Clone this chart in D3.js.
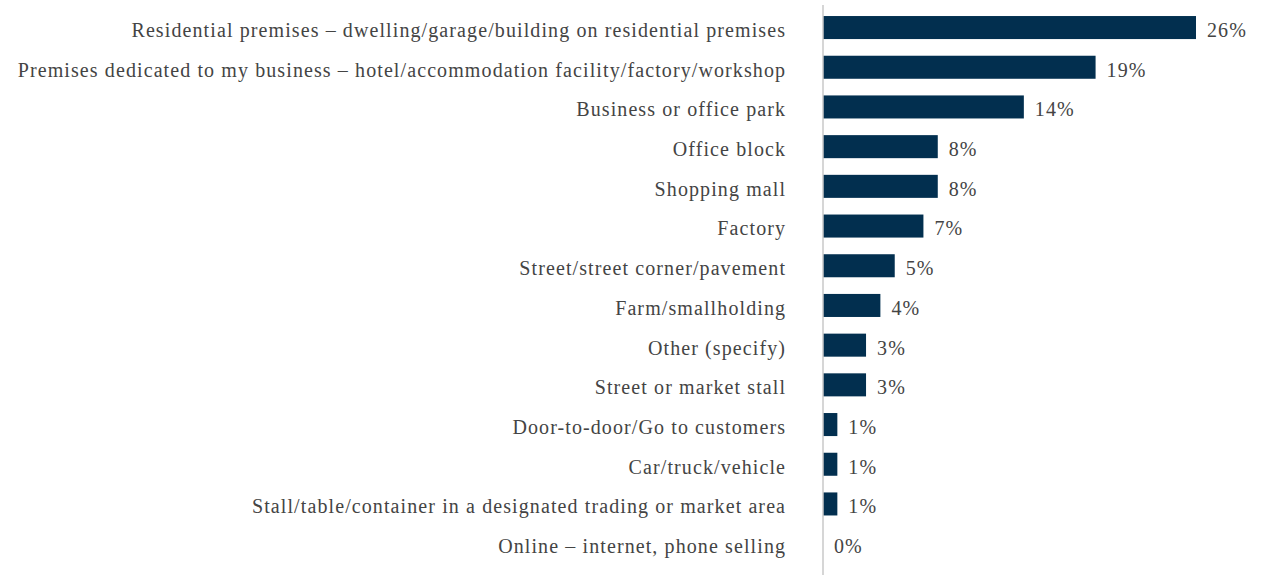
<!DOCTYPE html>
<html>
<head>
<meta charset="utf-8">
<script src="https://cdn.jsdelivr.net/npm/d3@7"></script>
<style>
  html, body { margin: 0; padding: 0; background: #fff; }
  svg { display: block; }
  text { font-family: "Liberation Serif", "DejaVu Serif", serif; fill: #444444; }
</style>
</head>
<body>
<svg id="chart" width="1262" height="575"></svg>
<script>
// Place of business, share of respondents (%)
const categories = [
  "Residential premises – dwelling/garage/building on residential premises",
  "Premises dedicated to my business – hotel/accommodation facility/factory/workshop",
  "Business or office park",
  "Office block",
  "Shopping mall",
  "Factory",
  "Street/street corner/pavement",
  "Farm/smallholding",
  "Other (specify)",
  "Street or market stall",
  "Door-to-door/Go to customers",
  "Car/truck/vehicle",
  "Stall/table/container in a designated trading or market area",
  "Online – internet, phone selling"
];
const values = [26, 19, 14, 8, 8, 7, 5, 4, 3, 3, 1, 1, 1, 0];

const svg = d3.select("#chart");
const axisX = 823;
const fontSize = 20;
const spacing = 1.1;

const x = d3.scaleLinear().domain([0, 26]).range([axisX, 1196]);
const y = d3.scaleBand()
  .domain(categories)
  .range([7.7, 563.5])
  .paddingInner(0.42)
  .paddingOuter(0.21);

// bars
svg.append("g").selectAll("rect")
  .data(values)
  .join("rect")
  .attr("x", x(0))
  .attr("y", (d, i) => y(categories[i]))
  .attr("width", d => x(d) - x(0))
  .attr("height", y.bandwidth())
  .attr("fill", "#022f4f");

// vertical axis line
svg.append("line")
  .attr("x1", axisX).attr("x2", axisX)
  .attr("y1", 5).attr("y2", 575)
  .attr("stroke", "#c8c8c8")
  .attr("stroke-width", 1.5);

// category labels
svg.append("g").selectAll("text")
  .data(categories)
  .join("text")
  .attr("x", axisX - 38 + spacing)
  .attr("y", d => y(d) + y.bandwidth() / 2)
  .attr("dy", "0.47em")
  .attr("text-anchor", "end")
  .style("font-size", fontSize + "px")
  .style("letter-spacing", spacing + "px")
  .text(d => d);

// value labels
svg.append("g").selectAll("text")
  .data(values)
  .join("text")
  .attr("x", d => x(d) + 11)
  .attr("y", (d, i) => y(categories[i]) + y.bandwidth() / 2)
  .attr("dy", "0.47em")
  .style("font-size", fontSize + "px")
  .style("letter-spacing", spacing + "px")
  .text(d => d + "%");
</script>
</body>
</html>
